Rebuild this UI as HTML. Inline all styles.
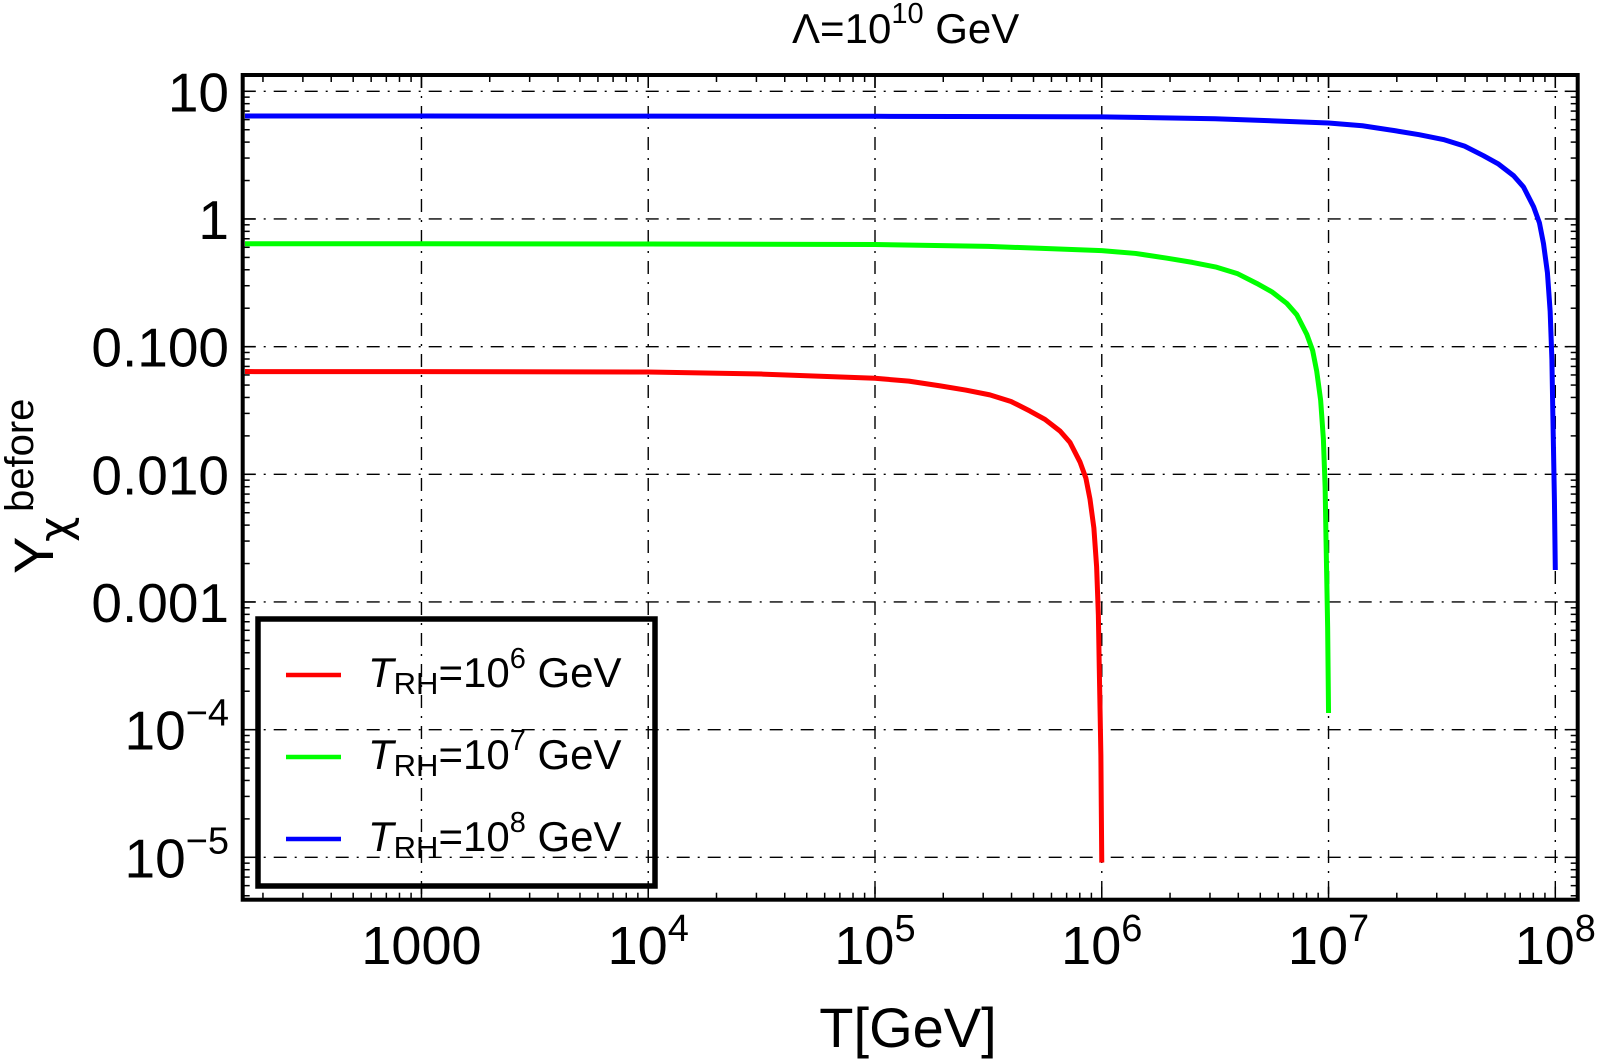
<!DOCTYPE html>
<html>
<head>
<meta charset="utf-8">
<style>
html,body{margin:0;padding:0;background:#fff;}
svg{display:block;font-family:"Liberation Sans",Arial,sans-serif;}
</style>
</head>
<body>
<svg id="chart" width="1600" height="1063" viewBox="0 0 1600 1063" xmlns="http://www.w3.org/2000/svg">
  <defs>
    <clipPath id="plotclip"><rect x="245" y="77" width="1331" height="821"/></clipPath>
  </defs>
  <text x="792" y="43" font-size="42">Λ=10<tspan font-size="29" dy="-20">10</tspan><tspan dy="20"> GeV</tspan></text>
  <g id="grid"></g>
  <g id="ticks"></g>
  <g id="series" clip-path="url(#plotclip)"></g>
  <rect x="242.7" y="75" width="1335" height="824.7" fill="none" stroke="#000" stroke-width="4"/>
  <g id="xlabels"></g>
  <g id="ylabels"></g>
  <text x="908" y="1047" font-size="56" text-anchor="middle">T[GeV]</text>
  <g>
    <text transform="translate(53,574) rotate(-90)" font-size="56">Y</text>
    <text transform="translate(70,542) rotate(-90)" font-size="44" font-family="DejaVu Sans, sans-serif">χ</text>
    <text transform="translate(33,512) rotate(-90)" font-size="40">before</text>
  </g>
  <g id="legend">
    <rect x="258" y="619" width="397" height="267" fill="none" stroke="#000" stroke-width="5.5"/>
  </g>
</svg>
<script>
// ---- data ----
const redT   = [160, 1e3, 1e4, 3.16e4, 1e5, 1.41e5, 1.94e5, 2.51e5, 3.21e5, 3.98e5, 4.82e5, 5.62e5, 6.55e5, 7.24e5, 8.02e5, 8.51e5, 8.87e5, 9.23e5, 9.49e5, 9.66e5, 9.75e5, 9.84e5, 9.91e5, 9.95e5, 1e6];
const redY   = [0.0638, 0.0637, 0.0633, 0.0610, 0.0565, 0.0537, 0.0493, 0.0457, 0.0419, 0.0372, 0.0313, 0.0269, 0.0218, 0.0178, 0.01247, 0.00933, 0.00641, 0.0038, 0.00189, 0.00079, 0.000302, 0.000126, 0.000063, 0.0000251, 0.0000091];
const greenT = [160, 1e3, 1e4, 1e5, 3.16e5, 1e6, 1.41e6, 1.94e6, 2.51e6, 3.21e6, 3.98e6, 4.82e6, 5.62e6, 6.55e6, 7.24e6, 8.02e6, 8.51e6, 8.87e6, 9.23e6, 9.49e6, 9.66e6, 9.75e6, 9.84e6, 9.91e6, 9.95e6, 1e7];
const greenY = [0.640, 0.639, 0.637, 0.631, 0.610, 0.565, 0.537, 0.493, 0.457, 0.419, 0.372, 0.313, 0.269, 0.218, 0.178, 0.1247, 0.0933, 0.0641, 0.038, 0.0189, 0.0079, 0.00302, 0.00126, 0.00063, 0.000316, 0.000135];
const blueT  = [160, 1e3, 1e4, 1e5, 1e6, 3.16e6, 1e7, 1.41e7, 1.94e7, 2.51e7, 3.21e7, 3.98e7, 4.82e7, 5.62e7, 6.55e7, 7.24e7, 8.02e7, 8.51e7, 8.87e7, 9.23e7, 9.49e7, 9.66e7, 9.75e7, 9.84e7, 9.91e7, 9.95e7, 1e8];
const blueY  = [6.40, 6.40, 6.39, 6.37, 6.31, 6.10, 5.65, 5.37, 4.93, 4.57, 4.19, 3.72, 3.13, 2.69, 2.18, 1.78, 1.247, 0.933, 0.641, 0.38, 0.189, 0.079, 0.0302, 0.0126, 0.0063, 0.00355, 0.00178];
const seriesNames = ["series-trh-1e6", "series-trh-1e7", "series-trh-1e8"];
const seriesColors = ["#ff0000", "#00ff00", "#0000ff"];
const legendMain = ["10", "10", "10"];
const legendExp = ["6", "7", "8"];
const xTickVals = [1e3, 1e4, 1e5, 1e6, 1e7, 1e8];
const xTickBase = ["1000", "10", "10", "10", "10", "10"];
const xTickExp = ["", "4", "5", "6", "7", "8"];
const yTickVals = [10, 1, 0.1, 0.01, 0.001, 1e-4, 1e-5];
const yTickBase = ["10", "1", "0.100", "0.010", "0.001", "10", "10"];
const yTickExp = ["", "", "", "", "", "−4", "−5"];

// ---- axes ----
const X0 = 875, XDEC = 226.77;
const Y0 = 91.3, YDEC = 127.67;
const LEFT = 242.7, RIGHT = 1577.7, TOP = 75, BOTTOM = 899.7;
function xs(t){ return X0 + (Math.log10(t) - 5) * XDEC; }
function ys(v){ return Y0 + (1 - Math.log10(v)) * YDEC; }
const NS = "http://www.w3.org/2000/svg";
function mk(tag, attrs, parent){
  const e = document.createElementNS(NS, tag);
  for (const k in attrs) e.setAttribute(k, attrs[k]);
  parent.appendChild(e);
  return e;
}
const grid = document.getElementById("grid");
const ticks = document.getElementById("ticks");
const dash = "13 8 2 8";

xTickVals.forEach(function(v){
  const x = xs(v);
  const l = mk("line", {x1:x, x2:x, y1:TOP, y2:BOTTOM, stroke:"#000", "stroke-width":1.4, "stroke-dasharray":dash}, grid);
  
  
});
yTickVals.forEach(function(v){
  const y = ys(v);
  const l = mk("line", {x1:LEFT, x2:RIGHT, y1:y, y2:y, stroke:"#000", "stroke-width":1.4, "stroke-dasharray":dash}, grid);
  
  
});

for (let d = 2; d <= 8; d++){
  for (let m = 1; m <= 9; m++){
    const v = m * Math.pow(10, d);
    const x = xs(v);
    if (x < LEFT + 2 || x > RIGHT - 2) continue;
    const len = m === 1 ? 13 : 7;
    const a = mk("line", {x1:x, x2:x, y1:BOTTOM, y2:BOTTOM - len, stroke:"#000", "stroke-width":1.5}, ticks);
    
    
    const b = mk("line", {x1:x, x2:x, y1:TOP, y2:TOP + len, stroke:"#000", "stroke-width":1.5}, ticks);
    
    
  }
}
for (let d = -6; d <= 1; d++){
  for (let m = 1; m <= 9; m++){
    const v = m * Math.pow(10, d);
    const y = ys(v);
    if (y < TOP + 2 || y > BOTTOM - 2) continue;
    const len = m === 1 ? 13 : 7;
    const a = mk("line", {x1:LEFT, x2:LEFT + len, y1:y, y2:y, stroke:"#000", "stroke-width":1.5}, ticks);
    
    
    const b = mk("line", {x1:RIGHT, x2:RIGHT - len, y1:y, y2:y, stroke:"#000", "stroke-width":1.5}, ticks);
    
    
  }
}

const xl = document.getElementById("xlabels");
xTickVals.forEach(function(v, i){
  const t = mk("text", {x:xs(v), y:964, "font-size":54, "text-anchor":"middle"}, xl);
  
  
  t.appendChild(document.createTextNode(xTickBase[i]));
  if (xTickExp[i]){
    const s = mk("tspan", {"font-size":38, dy:-23}, t);
    s.textContent = xTickExp[i];
  }
});
const yl = document.getElementById("ylabels");
yTickVals.forEach(function(v, i){
  const t = mk("text", {x:229, y:ys(v) + 20, "font-size":55, "text-anchor":"end"}, yl);
  
  
  t.appendChild(document.createTextNode(yTickBase[i]));
  if (yTickExp[i]){
    const s = mk("tspan", {"font-size":38, dy:-24}, t);
    s.textContent = yTickExp[i];
  }
});

const seriesT = [redT, greenT, blueT];
const seriesY = [redY, greenY, blueY];
const sg = document.getElementById("series");
seriesT.forEach(function(T, k){
  const Y = seriesY[k];
  const pts = T.map(function(t, i){ return xs(t).toFixed(2) + "," + ys(Y[i]).toFixed(2); }).join(" ");
  const p = mk("polyline", {points:pts, fill:"none", stroke:seriesColors[k], "stroke-width":5, "stroke-linejoin":"round"}, sg);
  
  
});

const lg = document.getElementById("legend");
seriesColors.forEach(function(c, k){
  const y = 675 + k * 82;
  const l = mk("line", {x1:286, x2:341, y1:y, y2:y, stroke:c, "stroke-width":4.5}, lg);
  
  
  const t = mk("text", {x:368, y:y + 12, "font-size":42}, lg);
  
  
  const a = mk("tspan", {"font-style":"italic"}, t); a.textContent = "T";
  const b = mk("tspan", {"font-size":31, dy:7}, t); b.textContent = "RH";
  const c2 = mk("tspan", {dy:-7}, t); c2.textContent = "=" + legendMain[k];
  const d = mk("tspan", {"font-size":29, dy:-19}, t); d.textContent = legendExp[k];
  const e = mk("tspan", {dy:19}, t); e.textContent = " GeV";
});
</script>
</body>
</html>
